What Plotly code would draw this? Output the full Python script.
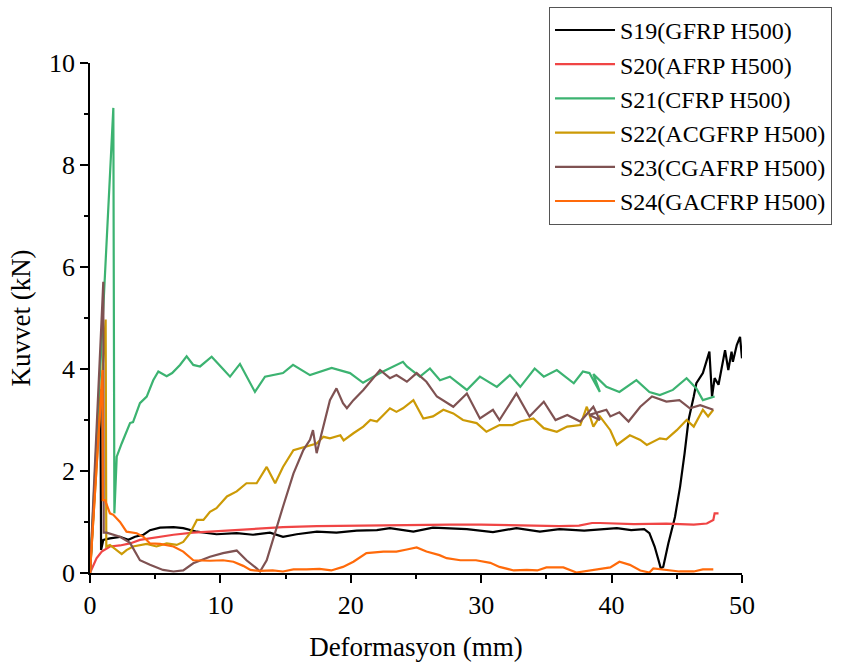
import plotly.graph_objects as go

# ---- data ----
s19_x = [0, 0.8, 0.85, 1.02, 1.53, 2.3, 2.94, 3.45, 4.1, 4.6, 5.37, 6.4, 7.15, 7.9, 8.2, 9.7, 11.25, 12.5,
         13.8, 14.8, 15.85, 17.4, 18.9, 20.45, 22.0, 23.0, 24.8, 26.3, 27.6, 28.9, 30.9, 32.7, 34.5, 36.0,
         37.9, 40.4, 41.5, 42.5, 42.9, 43.3, 43.6, 43.77, 43.96, 44.35, 44.86, 45.25, 45.6, 45.9, 46.3,
         46.5, 47.0, 47.3, 47.5, 47.7, 47.9, 48.2, 48.7, 48.95, 49.2, 49.3, 49.6, 49.85, 50.0]
s19_y = [0, 3.6, 0.45, 0.65, 0.68, 0.71, 0.65, 0.71, 0.75, 0.84, 0.89, 0.9, 0.88, 0.84, 0.81, 0.76, 0.78, 0.75,
         0.79, 0.71, 0.76, 0.81, 0.79, 0.83, 0.84, 0.88, 0.81, 0.89, 0.87, 0.86, 0.8, 0.88, 0.81, 0.86,
         0.83, 0.88, 0.84, 0.86, 0.78, 0.52, 0.25, 0.09, 0.12, 0.58, 1.1, 1.69, 2.35, 3.0, 3.46,
         3.72, 3.92, 4.18, 4.34, 3.46, 3.82, 3.69, 4.37, 3.98, 4.34, 4.14, 4.47, 4.63, 4.21]

s20_x = [0, 0.5, 0.9, 1.53, 2.3, 3.07, 3.83, 5.1, 6.4, 7.9, 9.7, 12.3, 14.8, 17.4, 19.9, 22.5, 25.05, 27.6,
         30.0, 33.0, 36.0, 37.5, 38.5, 39.1, 41.7, 44.2, 46.3, 47.3, 47.8, 47.9, 48.2]
s20_y = [0, 0.29, 0.42, 0.52, 0.54, 0.58, 0.65, 0.7, 0.75, 0.79, 0.82, 0.86, 0.9, 0.92, 0.93, 0.94, 0.95, 0.95,
         0.95, 0.94, 0.92, 0.93, 0.98, 0.98, 0.96, 0.97, 0.95, 0.97, 1.04, 1.17, 1.17]

s21_x = [0, 1.79, 1.87, 2.05, 2.43, 3.07, 3.3, 3.83, 4.35, 4.85, 5.24, 5.88, 6.3, 6.9, 7.41, 7.92, 8.44, 9.33,
         10.2, 10.74, 11.5, 12.65, 13.42, 14.8, 15.57, 16.87, 18.53, 19.94, 20.94, 22.24, 24.0, 24.3, 25.3,
         26.07, 26.84, 27.6, 28.9, 29.9, 31.2, 32.2, 33.0, 34.1, 34.8, 35.8, 37.1, 37.8, 38.3, 39.1, 38.6,
         39.6, 40.6, 41.9, 42.9, 43.7, 44.7, 45.75, 46.5, 47.0, 47.9]
s21_y = [0, 9.12, 1.17, 2.28, 2.54, 2.94, 2.96, 3.33, 3.46, 3.78, 3.95, 3.86, 3.92, 4.08, 4.25, 4.08, 4.05, 4.24,
         4.0, 3.85, 4.1, 3.55, 3.85, 3.92, 4.08, 3.88, 4.02, 3.92, 3.73, 3.92, 4.14, 4.05, 3.85,
         4.01, 3.78, 3.85, 3.59, 3.85, 3.65, 3.88, 3.65, 4.01, 3.85, 3.98, 3.72, 3.95, 3.92, 3.55, 3.9,
         3.65, 3.55, 3.78, 3.55, 3.49, 3.59, 3.82, 3.62, 3.39, 3.46]

s22_x = [0, 1.2, 1.25, 1.53, 2.43, 2.8, 3.3, 4.35, 5.1, 5.88, 6.65, 7.15, 7.67, 8.2, 8.7, 9.2, 9.7, 10.5, 11.25,
         12.0, 12.78, 13.55, 14.2, 14.8, 15.6, 16.6, 17.38, 17.9, 18.4, 19.2, 19.45, 20.2, 20.96, 21.5, 22.0,
         22.5, 23.0, 23.5, 24.0, 24.8, 25.56, 26.3, 27.1, 27.86, 28.6, 29.65, 30.4, 31.4, 32.4, 33.0, 34.0,
         34.8, 35.8, 36.6, 37.6, 38.1, 38.6, 39.1, 39.9, 40.4, 41.4, 42.2, 42.7, 43.7, 44.2, 45.0, 45.75,
         46.3, 47.0, 47.4, 47.8]
s22_y = [0, 4.97, 0.52, 0.55, 0.37, 0.45, 0.52, 0.57, 0.52, 0.58, 0.55, 0.61, 0.78, 1.04, 1.04, 1.2, 1.27, 1.5, 1.6,
         1.76, 1.76, 2.08, 1.76, 2.08, 2.41, 2.48, 2.54, 2.67, 2.64, 2.7, 2.6, 2.74, 2.87, 3.0, 2.97,
         3.1, 3.23, 3.16, 3.23, 3.39, 3.03, 3.07, 3.2, 3.13, 3.0, 2.94, 2.77, 2.9, 2.9, 2.97, 3.03,
         2.84, 2.77, 2.87, 2.9, 3.26, 2.87, 3.07, 2.8, 2.51, 2.7, 2.61, 2.51, 2.64, 2.62, 2.8, 3.0,
         2.87, 3.2, 3.07, 3.2]

s23_x = [0, 1.02, 1.05, 1.28, 2.3, 3.07, 3.83, 4.6, 5.6, 6.4, 7.15, 7.92, 9.2, 10.2, 11.25, 12.0, 12.78, 13.04,
         13.55, 14.3, 14.8, 15.6, 16.36, 16.87, 17.1, 17.38, 17.9, 18.4, 18.9, 19.4, 19.7, 20.2, 20.96, 21.5,
         22.24, 23.0, 23.5, 24.3, 25.05, 25.8, 26.6, 27.86, 28.9, 29.9, 30.9, 31.4, 32.7, 33.7, 34.8, 35.7,
         36.6, 37.6, 38.6, 39.1, 38.3, 39.6, 39.9, 40.6, 41.3, 42.2, 43.1, 44.2, 45.2, 46.0, 46.8, 47.8]
s23_y = [0, 5.71, 0.79, 0.79, 0.71, 0.59, 0.25, 0.16, 0.06, 0.03, 0.05, 0.19, 0.32, 0.39, 0.44, 0.25, 0.09, 0.03,
         0.25, 0.91, 1.3, 1.95, 2.41, 2.61, 2.8, 2.35, 2.87, 3.39, 3.62, 3.33, 3.23, 3.39, 3.59, 3.75,
         3.98, 3.82, 3.88, 3.75, 3.92, 3.75, 3.46, 3.26, 3.52, 3.03, 3.2, 3.0, 3.52, 3.07, 3.36, 3.0,
         3.1, 2.97, 3.26, 3.0, 3.1, 3.2, 3.07, 3.15, 2.97, 3.26, 3.46, 3.36, 3.39, 3.23, 3.29, 3.2]

s24_x = [0, 0.97, 0.98, 1.15, 1.53, 1.79, 2.3, 2.8, 3.58, 4.1, 4.6, 5.37, 6.4, 7.15, 7.92, 9.2, 10.2, 11.0,
         11.75, 12.3, 13.04, 14.0, 14.8, 15.6, 16.6, 17.6, 18.5, 19.4, 20.2, 21.2, 22.5, 23.5, 24.3, 25.05,
         25.8, 26.8, 27.35, 28.4, 29.6, 30.7, 31.4, 32.5, 33.5, 34.3, 35.0, 36.3, 37.3, 38.34, 39.1, 39.9,
         40.6, 41.4, 42.2, 42.9, 43.2, 44.2, 45.2, 46.3, 47.0, 47.8]
s24_y = [0, 3.98, 1.43, 1.43, 1.17, 1.14, 1.0, 0.81, 0.78, 0.71, 0.58, 0.57, 0.52, 0.42, 0.25, 0.24, 0.25, 0.22,
         0.14, 0.06, 0.04, 0.05, 0.03, 0.07, 0.07, 0.08, 0.05, 0.12, 0.22, 0.39, 0.42, 0.42, 0.46, 0.5,
         0.42, 0.35, 0.29, 0.25, 0.25, 0.2, 0.12, 0.05, 0.06, 0.05, 0.11, 0.11, 0.01, 0.05, 0.07, 0.11,
         0.22, 0.16, 0.05, 0.01, 0.09, 0.06, 0.03, 0.03, 0.07, 0.07]

series_names = ["S19(GFRP H500)", "S20(AFRP H500)", "S21(CFRP H500)",
                "S22(ACGFRP H500)", "S23(CGAFRP H500)", "S24(GACFRP H500)"]
series_colors = ["#000000", "#F04545", "#3CB371", "#CC9A06", "#7F5252", "#FF6A0A"]
series_data = [(s19_x, s19_y), (s20_x, s20_y), (s21_x, s21_y),
               (s22_x, s22_y), (s23_x, s23_y), (s24_x, s24_y)]

x_ticks = [0, 10, 20, 30, 40, 50]
y_ticks = [0, 2, 4, 6, 8, 10]

FONT = "Liberation Serif, Times New Roman, serif"

fig = go.Figure()
for name, color, (xs, ys) in zip(series_names, series_colors, series_data):
    fig.add_trace(go.Scatter(x=xs, y=ys, mode="lines", name=name,
                             line=dict(color=color, width=2.2)))

axis_common = dict(
    showgrid=False, zeroline=False, showline=True, linecolor="black", linewidth=1.5,
    ticks="outside", ticklen=8, tickwidth=1.5, tickcolor="black",
    tickfont=dict(family=FONT, size=26, color="black"),
    mirror=False, automargin=False,
)

fig.update_layout(
    width=855, height=662,
    margin=dict(l=90, r=113, t=63, b=89, autoexpand=False),
    paper_bgcolor="white", plot_bgcolor="white",
    font=dict(family=FONT, color="black"),
    showlegend=True,
    legend=dict(
        x=0.704, y=1.11, xanchor="left", yanchor="top",
        bgcolor="white", bordercolor="#555555", borderwidth=1,
        font=dict(family=FONT, size=24, color="black"),
        itemwidth=60, tracegroupgap=0,
    ),
    xaxis=dict(
        range=[0, 50], tickvals=x_ticks, ticktext=[str(v) for v in x_ticks],
        minor=dict(tickvals=[5, 15, 25, 35, 45], ticks="outside", ticklen=4,
                   tickwidth=1.5, tickcolor="black"),
        title=dict(text="Deformasyon (mm)", font=dict(family=FONT, size=27), standoff=20),
        **axis_common,
    ),
    yaxis=dict(
        range=[0, 10], tickvals=y_ticks, ticktext=[str(v) for v in y_ticks],
        minor=dict(tickvals=[1, 3, 5, 7, 9], ticks="outside", ticklen=4,
                   tickwidth=1.5, tickcolor="black"),
        title=dict(text="Kuvvet (kN)", font=dict(family=FONT, size=27), standoff=11),
        **axis_common,
    ),
)

fig.write_html("out.html")
